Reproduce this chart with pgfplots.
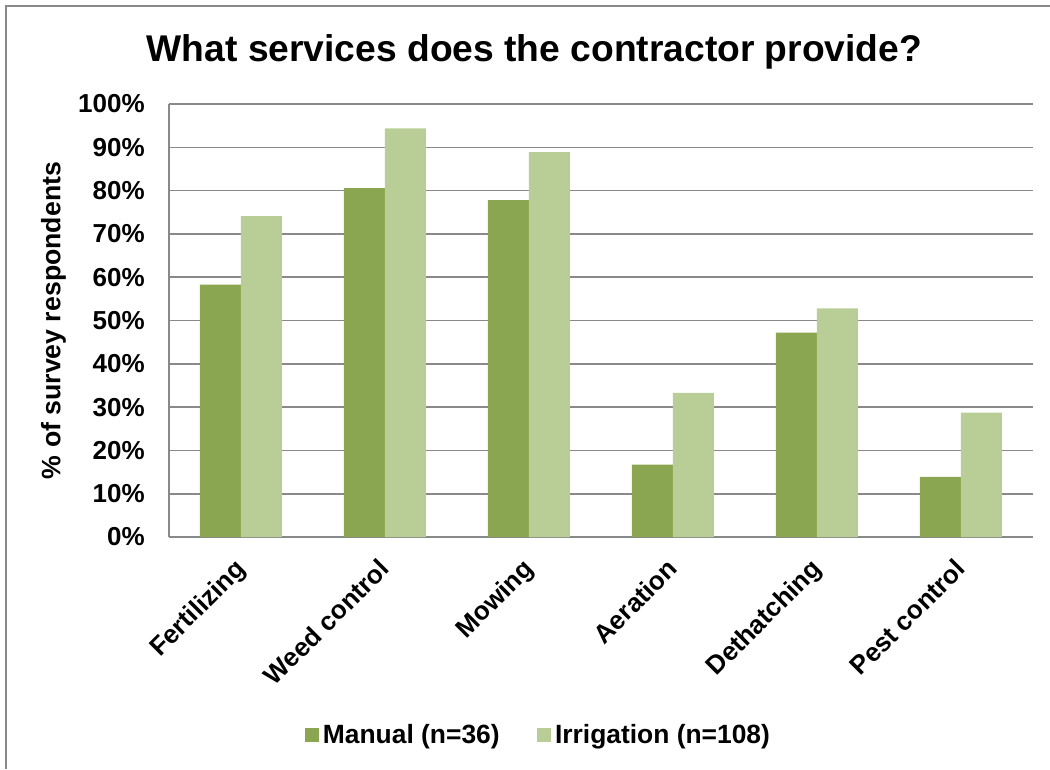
\documentclass[border=0pt]{standalone}
\usepackage{fontspec}
\setmainfont{Liberation Sans}
\usepackage{pgfplots}
\pgfplotsset{compat=1.18}
\definecolor{manual}{RGB}{139,166,80}
\definecolor{irrig}{RGB}{185,206,150}
\definecolor{gridgray}{RGB}{137,137,137}
\begin{document}
\begin{tikzpicture}
\begin{axis}[
  name=ax, at={(0,0)}, anchor=south west,
  scale only axis, width=648pt, height=324.75pt,
  ybar=0pt, bar width=30.75pt,
  xmin=-0.5, xmax=5.5, ymin=0, ymax=100,
  xtick={0,1,2,3,4,5},
  xticklabels={Fertilizing,Weed control,Mowing,Aeration,Dethatching,Pest control},
  ytick={0,10,...,100},
  yticklabel={\pgfmathprintnumber{\tick}\%},
  /pgf/number format/assume math mode=true,
  axis x line*=bottom, axis y line*=left,
  axis line style={gridgray, line width=1.2pt, -},
  major tick length=0pt,
  ymajorgrids, grid style={gridgray, line width=1.2pt},
  tick label style={font=\bfseries\fontsize{19.5}{22}\selectfont},
  yticklabel style={anchor=east, inner sep=0pt, xshift=-18pt},
  xticklabel style={xshift=-5.5pt, yshift=-15pt, rotate=45, anchor=north east, inner sep=0pt},
  ylabel={\% of survey respondents},
  ylabel style={at={(axis description cs:-0.1256,0.5)}, anchor=base, rotate=0, font=\bfseries\fontsize{20}{24}\selectfont},
  legend style={at={(axis description cs:0.428,-0.457)}, anchor=center, draw=none, fill=none,
    legend columns=2, font=\bfseries\fontsize{19.8}{23}\selectfont,
    /tikz/every even column/.append style={column sep=26pt}},
  legend cell align=left,
  legend image code/.code={\fill[#1] (0pt,-5.25pt) rectangle (10.5pt,5.25pt);\path (0pt,0pt) -- (11.5pt,0pt);},
]
\addplot[fill=manual, draw=none] coordinates {(0,58.3) (1,80.6) (2,77.8) (3,16.7) (4,47.2) (5,13.9)};
\addplot[fill=irrig, draw=none] coordinates {(0,74.1) (1,94.4) (2,88.9) (3,33.3) (4,52.8) (5,28.7)};
\legend{Manual (n=36),Irrigation (n=108)}
\end{axis}
\node[anchor=base, font=\bfseries\fontsize{27.9}{32}\selectfont] at (274.1pt,356.25pt) {What services does the contractor provide?};
\pgfresetboundingbox
\path[use as bounding box] (-126.75pt,-174pt) rectangle (660.75pt,402.75pt);
\draw[gridgray, line width=1.5pt] (-122.25pt,-174pt) -- (-122.25pt,398.25pt) -- (660.75pt,398.25pt);
\end{tikzpicture}
\end{document}
